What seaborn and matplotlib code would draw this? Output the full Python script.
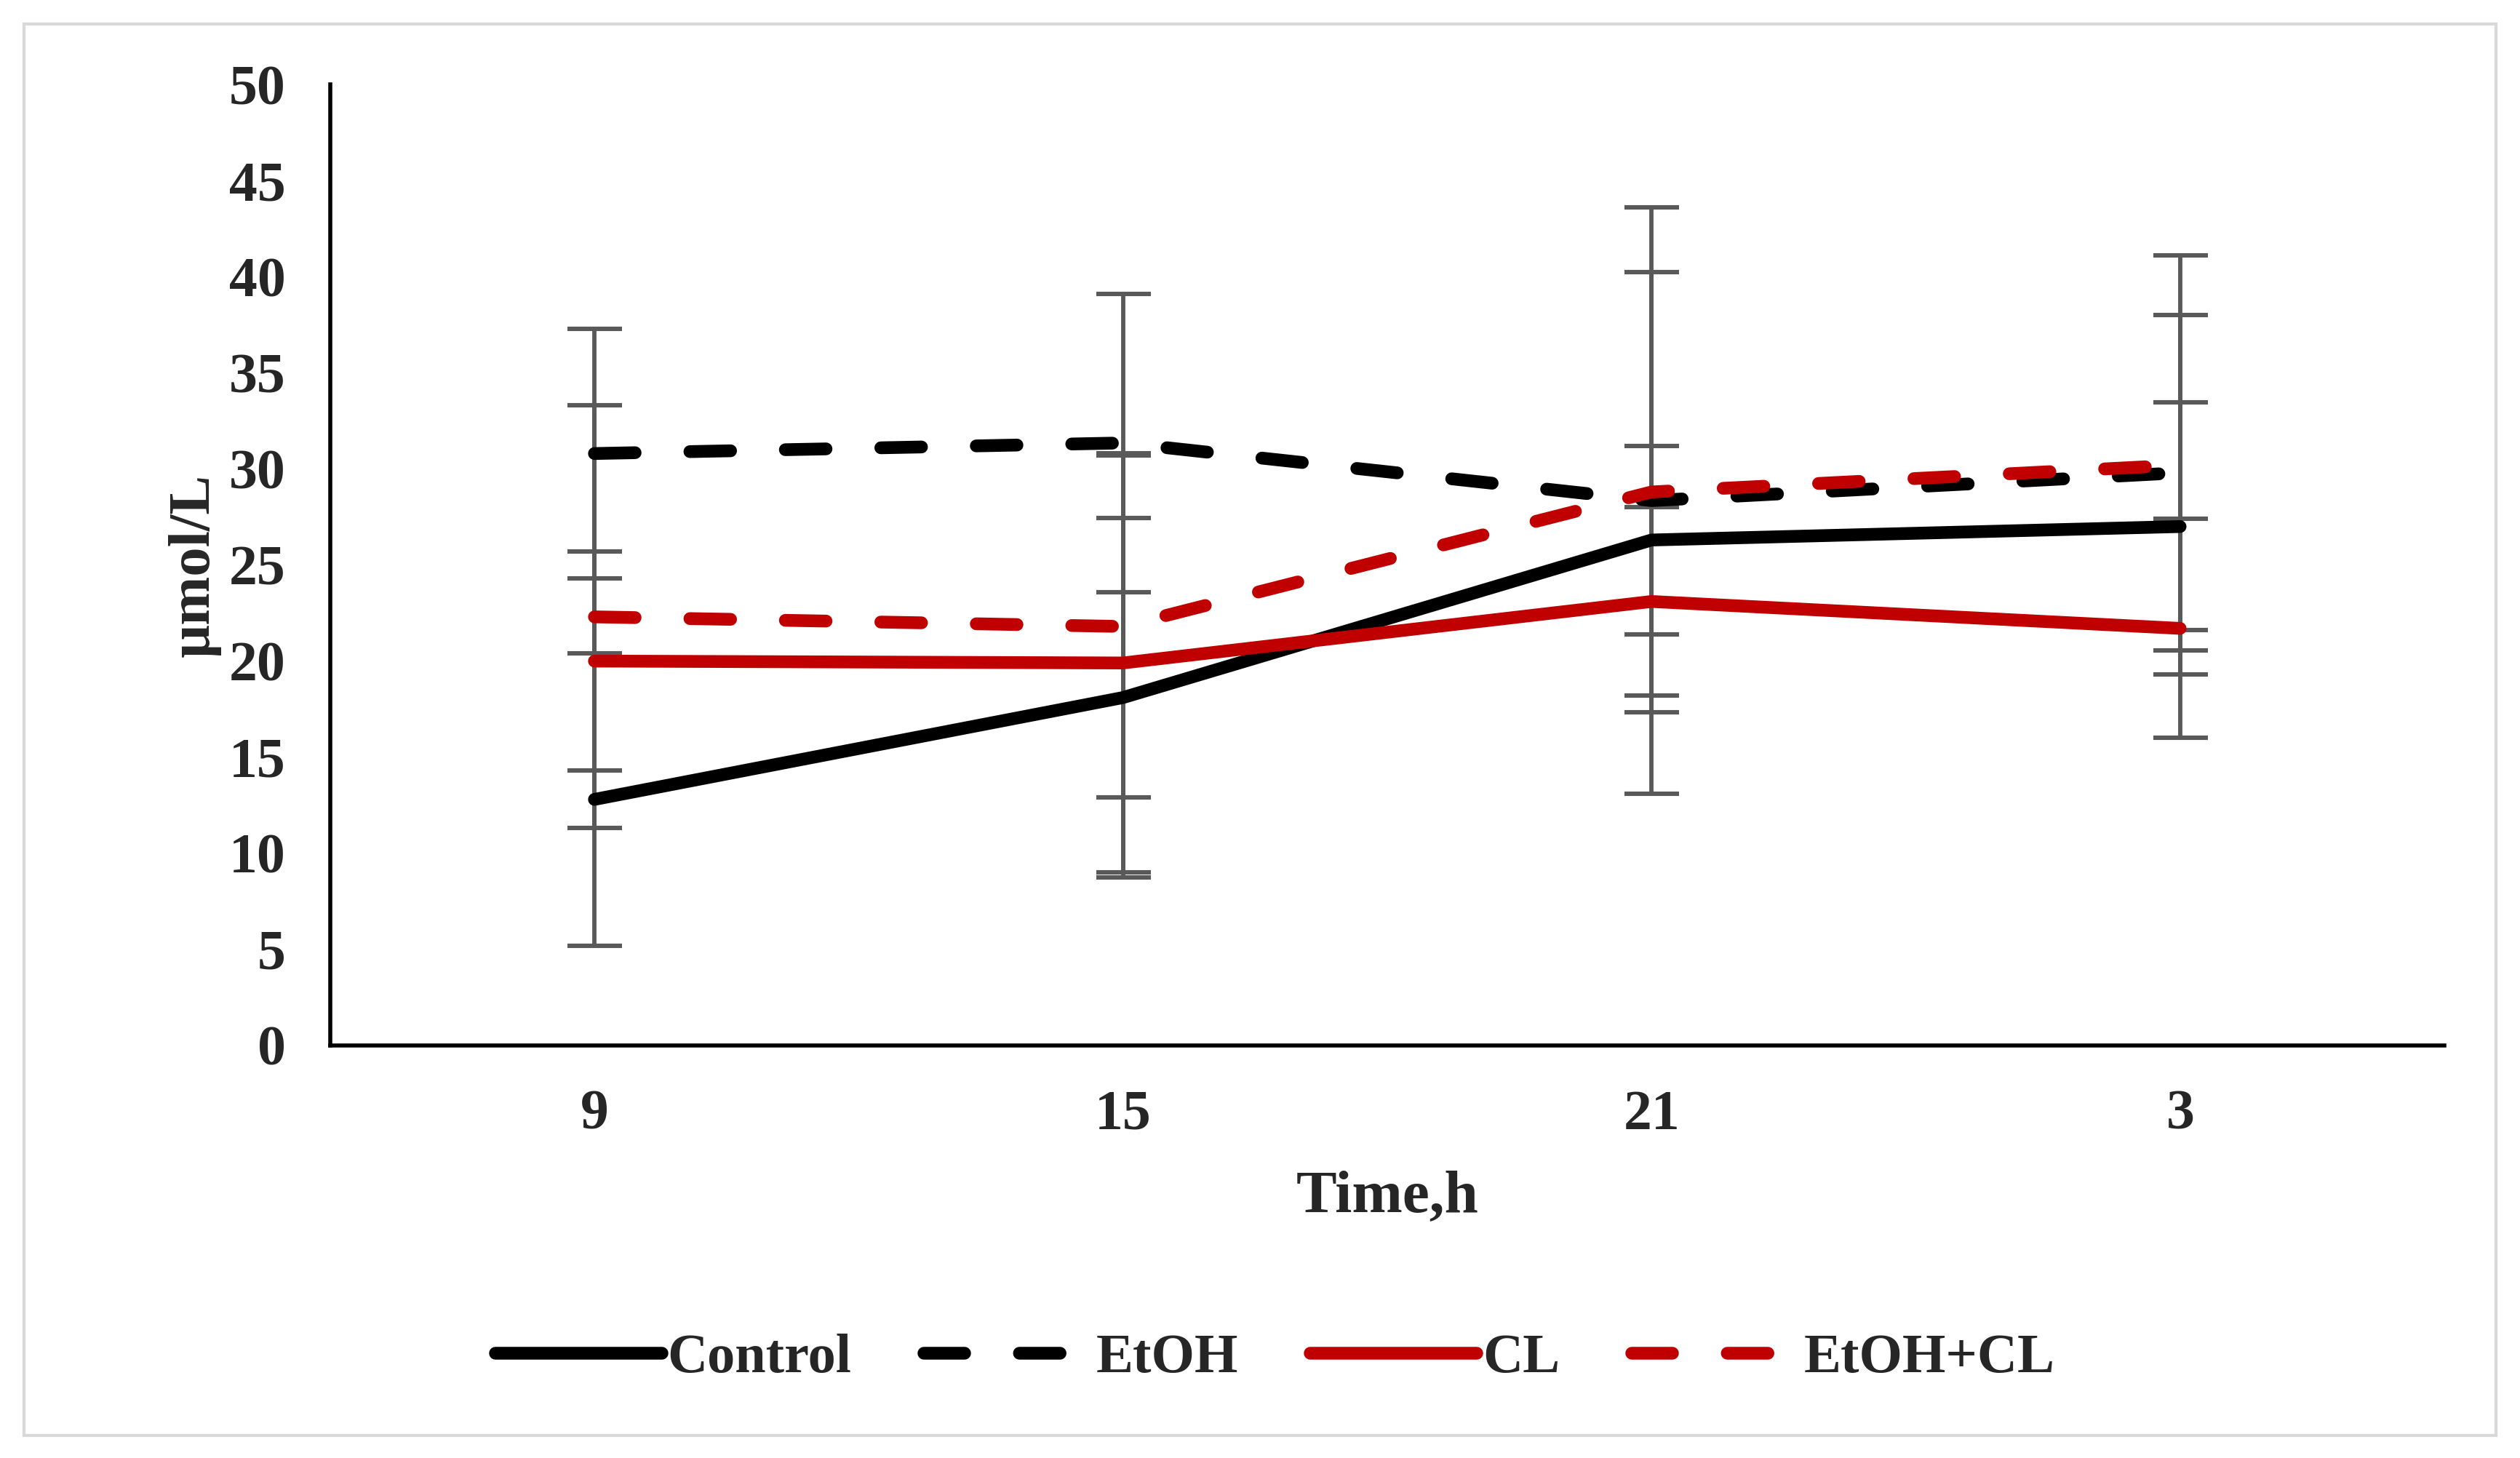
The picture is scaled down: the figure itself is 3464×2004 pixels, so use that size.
import matplotlib
matplotlib.use("Agg")
import matplotlib.pyplot as plt
import matplotlib.patches as mpatches
import numpy as np
import pandas as pd
import seaborn as sns

# values
time_labels = ["9", "15", "21", "3"]
series_names = ["Control", "EtOH", "CL", "EtOH+CL"]
control = [12.8, 18.1, 26.3, 27.0]
control_err = [7.6, 9.35, 4.9, 6.45]
etoh = [30.8, 31.35, 28.35, 29.8]
etoh_err = [6.5, 7.75, 15.25, 8.2]
cl = [20.0, 19.9, 23.1, 21.7]
cl_err = [5.7, 10.9, 4.9, 5.7]
etoh_cl = [22.3, 21.8, 28.8, 30.2]
etoh_cl_err = [11.0, 8.9, 11.45, 10.9]

values = [control, etoh, cl, etoh_cl]
errors = [control_err, etoh_err, cl_err, etoh_cl_err]
colors = ["#000000", "#000000", "#c00000", "#c00000"]
dashed = [False, True, False, True]

LW = 6.3
DASH = (3.2, 4.3)

sns.set_theme(style="white")
plt.rcParams["font.family"] = ["Liberation Serif", "DejaVu Serif"]
plt.rcParams["font.weight"] = "bold"

fig = plt.figure(figsize=(17.32, 10.02), dpi=200)
ax = fig.add_axes([0.131, 0.283, 0.839, 0.659])

# outer light border round the chart
fig.patches.append(mpatches.Rectangle((0.0095, 0.0155), 0.981, 0.968, transform=fig.transFigure,
                                      fill=False, edgecolor="#d9d9d9", linewidth=1.5))

x = np.arange(len(time_labels))

for vals, errs in zip(values, errors):
    ax.errorbar(x, vals, yerr=errs, fmt="none", ecolor="#595959", elinewidth=2.1,
                capsize=13.5, capthick=2.2, zorder=1)

for name, vals, col, dsh in zip(series_names, values, colors, dashed):
    df = pd.DataFrame({"time": x, "value": vals})
    sns.lineplot(data=df, x="time", y="value", color=col, linewidth=LW, ax=ax,
                 label=name, zorder=3)
    line = ax.lines[-1]
    line.set_solid_capstyle("round")
    line.set_dash_capstyle("round")
    if dsh:
        line.set_dashes(DASH)

ax.set_xlim(-0.5, 3.5)
ax.set_ylim(0, 50)
ax.set_yticks(range(0, 51, 5))
ax.set_xticks(x)
ax.set_xticklabels(time_labels)
ax.tick_params(axis="both", length=0, labelsize=28, pad=22)
for lab in ax.get_xticklabels() + ax.get_yticklabels():
    lab.set_fontweight("bold")

for side in ["top", "right"]:
    ax.spines[side].set_visible(False)
for side in ["left", "bottom"]:
    ax.spines[side].set_color("black")
    ax.spines[side].set_linewidth(2.0)

ax.set_xlabel("Time,h", fontsize=30, fontweight="bold", labelpad=14)
ax.set_ylabel("µmol/L", fontsize=29, fontweight="bold", labelpad=4)

# legend sits centred on the figure, not on the axes
leg = fig.legend(*ax.get_legend_handles_labels(), loc="center", bbox_to_anchor=(0.506, 0.068),
                 ncol=4, frameon=False, fontsize=27.5, handlelength=3.0,
                 columnspacing=1.3, handletextpad=0.1)
ax.get_legend().remove()
for t in leg.get_texts():
    t.set_fontweight("bold")

fig.savefig("out.png", dpi=200)
